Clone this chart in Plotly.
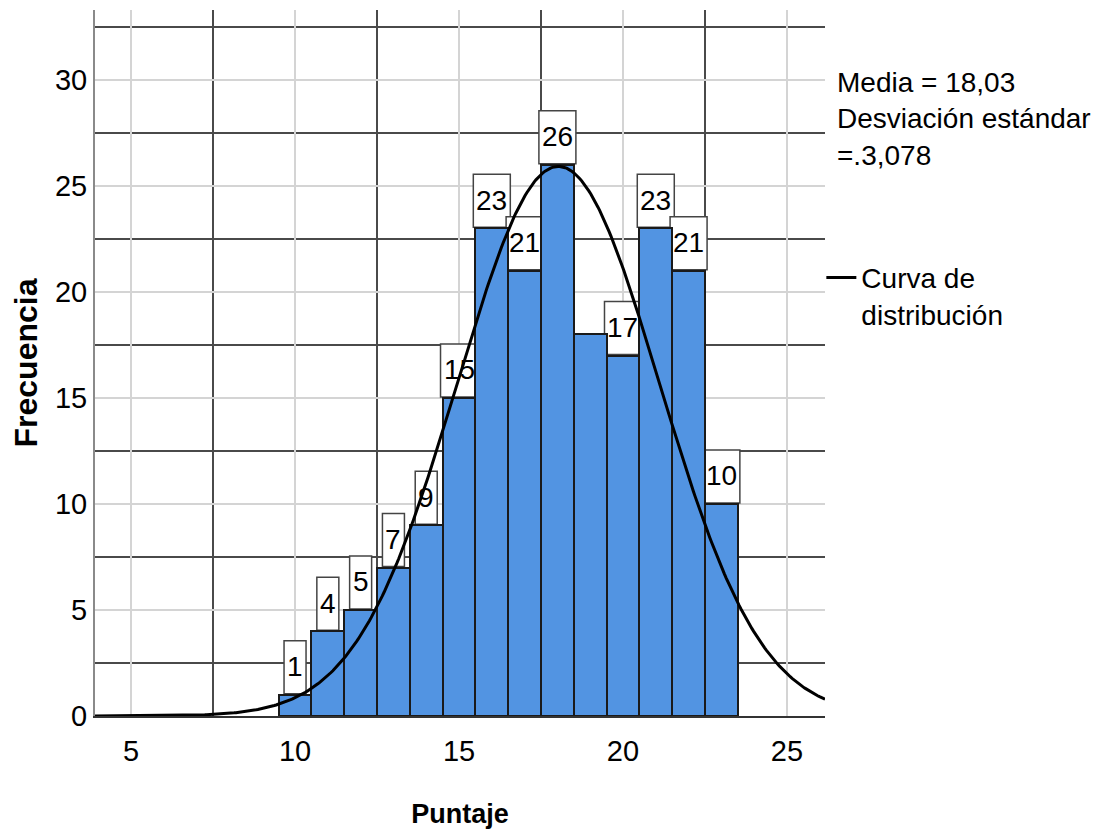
import numpy as np
import plotly.graph_objects as go

# ---- data ----
puntaje = [10, 11, 12, 13, 14, 15, 16, 17, 18, 19, 20, 21, 22, 23]
frecuencia = [1, 4, 5, 7, 9, 15, 23, 21, 26, 18, 17, 23, 21, 10]
etiquetas = ["1", "4", "5", "7", "9", "15", "23", "21", "26", "", "17", "23", "21", "10"]
media = 18.03
desviacion = 3.078
n_total = sum(frecuencia)
x_range = [3.9, 26.16]
y_range = [0, 33.3]

FONT = "Liberation Sans, Arial, sans-serif"

# fitted normal curve (N * bin width * pdf)
xc = np.linspace(x_range[0], x_range[1], 400)
yc = n_total * 1.0 / (desviacion * np.sqrt(2 * np.pi)) * np.exp(-((xc - media) ** 2) / (2 * desviacion ** 2))

fig = go.Figure()
fig.add_trace(go.Bar(
    x=puntaje, y=frecuencia, width=1,
    marker=dict(color="#5294e2", line=dict(color="#1a1a1a", width=2)),
    showlegend=False, hoverinfo="x+y",
))
fig.add_trace(go.Scatter(
    x=xc, y=yc, mode="lines",
    line=dict(color="black", width=3),
    name="Curva de<br>distribución",
))

shapes = []
annotations = []
for cx, cy, lab in zip(puntaje, frecuencia, etiquetas):
    if not lab:
        continue
    half = 11 if len(lab) == 1 else 18.5
    shapes.append(dict(
        type="rect", layer="between",
        xref="x", yref="y", xsizemode="pixel", ysizemode="pixel",
        xanchor=cx, yanchor=cy,
        x0=-half, x1=half, y0=1, y1=54,
        fillcolor="white", line=dict(color="#444444", width=1.5),
    ))
    annotations.append(dict(
        x=cx, y=cy, xref="x", yref="y", text=lab, showarrow=False,
        yanchor="middle", yshift=28,
        font=dict(family=FONT, size=28, color="black"),
    ))

annotations.append(dict(
    xref="paper", yref="paper", x=1.0137, y=0.922,
    xanchor="left", yanchor="top", align="left", showarrow=False,
    text="Media = 18,03<br>Desviación estándar<br>=.3,078",
    font=dict(family=FONT, size=28, color="black"),
))

fig.update_layout(
    width=1093, height=826,
    margin=dict(l=87, r=276, t=2, b=118, autoexpand=False),
    plot_bgcolor="white", paper_bgcolor="white",
    bargap=0,
    shapes=shapes, annotations=annotations,
    legend=dict(
        x=0.995, y=0.656, xanchor="left", yanchor="top",
        font=dict(family=FONT, size=28, color="black"),
        valign="top", bgcolor="rgba(0,0,0,0)",
    ),
    xaxis=dict(
        range=x_range, dtick=5, tick0=0,
        showgrid=True, gridcolor="#d4d4d4", gridwidth=2,
        minor=dict(tick0=2.5, dtick=5, showgrid=True, gridcolor="#4a4a4a", gridwidth=1.5),
        showline=True, linecolor="#333333", linewidth=2,
        zeroline=False, automargin=False,
        ticks="outside", ticklen=8, tickcolor="rgba(0,0,0,0)",
        tickfont=dict(family=FONT, size=29, color="black"),
        title=dict(text="<b>Puntaje</b>", font=dict(family=FONT, size=27, color="black"), standoff=38),
    ),
    yaxis=dict(
        range=y_range, dtick=5, tick0=0,
        showgrid=True, gridcolor="#d4d4d4", gridwidth=2,
        minor=dict(tick0=2.5, dtick=5, showgrid=True, gridcolor="#4a4a4a", gridwidth=1.5),
        showline=True, linecolor="#8a8a8a", linewidth=2,
        zeroline=False, automargin=False,
        ticks="",
        tickfont=dict(family=FONT, size=29, color="black"),
        title=dict(text="<b>Frecuencia</b>", font=dict(family=FONT, size=32, color="black"), standoff=18),
    ),
)

fig.write_html("out.html")
